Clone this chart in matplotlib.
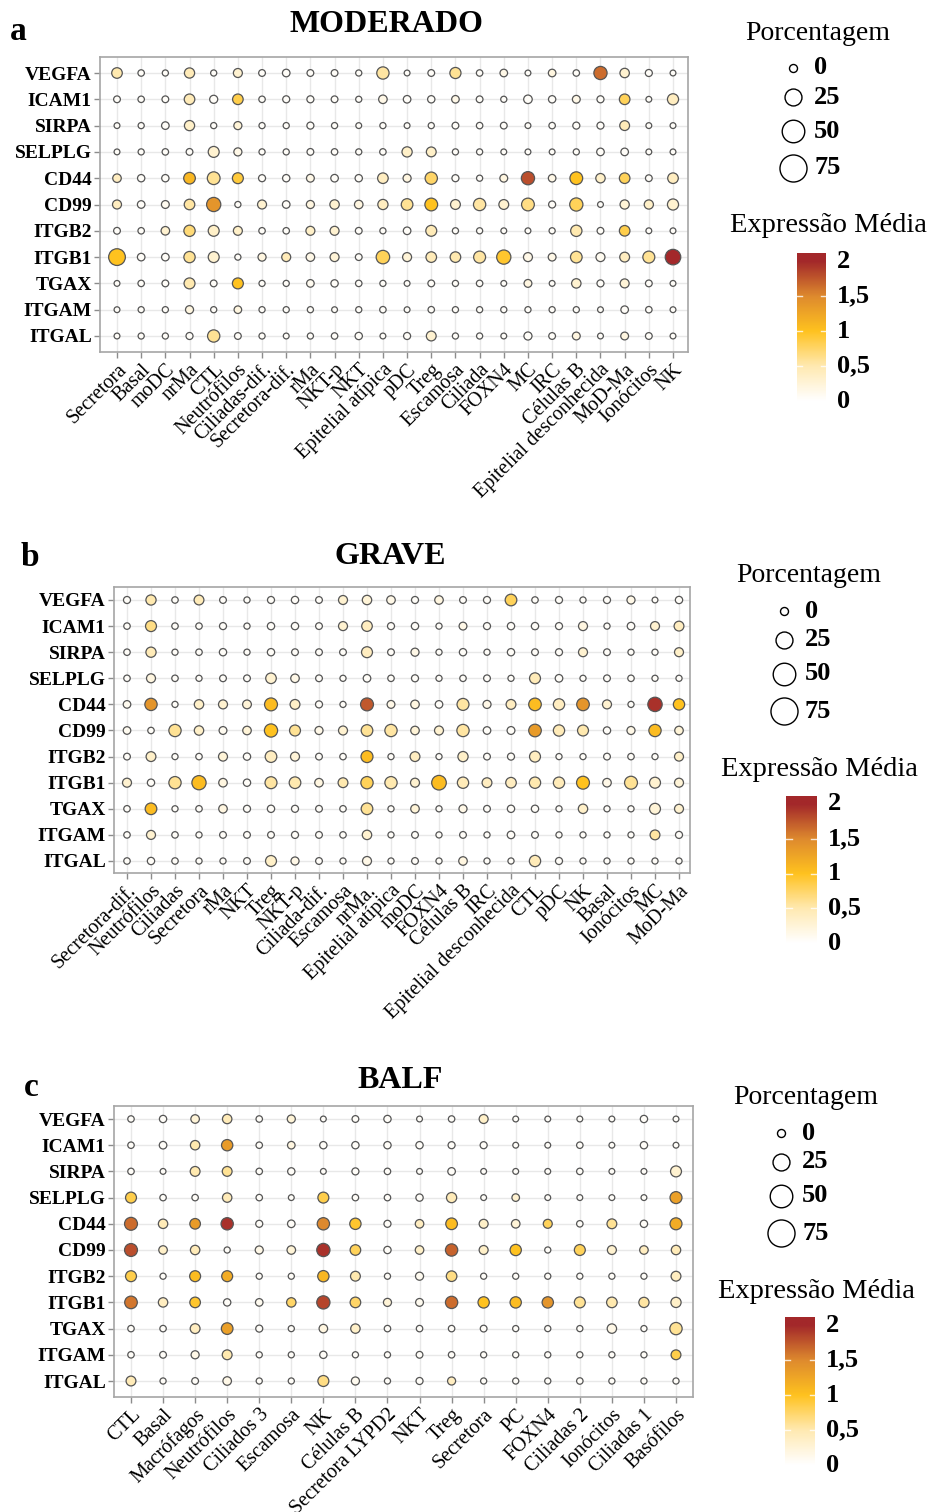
import numpy as np
import matplotlib
matplotlib.use("Agg")
import matplotlib.pyplot as plt
from matplotlib.colors import LinearSegmentedColormap, Normalize

plt.rcParams['font.family'] = ['Liberation Serif', 'DejaVu Serif']

W, H, DPI = 932, 1512, 100

genes = ["VEGFA", "ICAM1", "SIRPA", "SELPLG", "CD44", "CD99", "ITGB2",
         "ITGB1", "TGAX", "ITGAM", "ITGAL"]

# ---------------- Panel a : MODERADO ----------------
cells_a = ["Secretora", "Basal", "moDC", "nrMa", "CTL", "Neutrófilos",
           "Ciliadas-dif.", "Secretora-dif.", "rMa", "NKT-p", "NKT",
           "Epitelial atípica", "pDC", "Treg", "Escamosa", "Ciliada", "FOXN4",
           "MC", "IRC", "Células B", "Epitelial desconhecida", "MoD-Ma",
           "Ionócitos", "NK"]
expr_a = [
    [0.5, 0.05, 0.05, 0.45, 0.05, 0.3, 0.05, 0.05, 0.05, 0.05, 0.05, 0.55, 0.05, 0.05, 0.6, 0.05, 0.15, 0.05, 0.2, 0.05, 1.65, 0.3, 0.05, 0.05],
    [0.05, 0.05, 0.05, 0.45, 0.05, 0.85, 0.05, 0.05, 0.05, 0.05, 0.05, 0.15, 0.05, 0.05, 0.15, 0.05, 0.05, 0.05, 0.05, 0.15, 0.05, 0.8, 0.05, 0.4],
    [0.05, 0.05, 0.05, 0.35, 0.05, 0.25, 0.05, 0.05, 0.05, 0.05, 0.05, 0.05, 0.05, 0.05, 0.05, 0.05, 0.05, 0.05, 0.05, 0.05, 0.05, 0.45, 0.05, 0.05],
    [0.05, 0.05, 0.05, 0.05, 0.3, 0.15, 0.05, 0.05, 0.05, 0.05, 0.05, 0.05, 0.35, 0.35, 0.05, 0.05, 0.05, 0.05, 0.05, 0.05, 0.05, 0.05, 0.05, 0.05],
    [0.4, 0.05, 0.05, 1.1, 0.6, 0.9, 0.05, 0.05, 0.15, 0.05, 0.05, 0.4, 0.2, 0.75, 0.05, 0.05, 0.2, 1.8, 0.15, 1.0, 0.35, 0.8, 0.05, 0.4],
    [0.4, 0.05, 0.1, 0.55, 1.4, 0.05, 0.3, 0.05, 0.2, 0.3, 0.2, 0.4, 0.6, 1.0, 0.3, 0.55, 0.3, 0.65, 0.05, 0.8, 0.05, 0.25, 0.35, 0.3],
    [0.05, 0.05, 0.3, 0.7, 0.35, 0.35, 0.05, 0.05, 0.35, 0.3, 0.05, 0.05, 0.05, 0.45, 0.05, 0.05, 0.05, 0.05, 0.05, 0.5, 0.05, 0.85, 0.05, 0.05],
    [1.0, 0.05, 0.05, 0.6, 0.3, 0.05, 0.2, 0.45, 0.15, 0.25, 0.05, 0.8, 0.25, 0.45, 0.5, 0.55, 0.95, 0.15, 0.15, 0.6, 0.1, 0.4, 0.6, 2.0],
    [0.05, 0.05, 0.05, 0.5, 0.05, 1.0, 0.05, 0.05, 0.1, 0.05, 0.05, 0.05, 0.05, 0.05, 0.05, 0.05, 0.05, 0.2, 0.05, 0.3, 0.05, 0.25, 0.05, 0.05],
    [0.05, 0.05, 0.05, 0.2, 0.05, 0.2, 0.05, 0.05, 0.05, 0.05, 0.05, 0.05, 0.05, 0.05, 0.05, 0.05, 0.05, 0.05, 0.05, 0.05, 0.05, 0.05, 0.05, 0.05],
    [0.05, 0.05, 0.05, 0.05, 0.6, 0.05, 0.05, 0.05, 0.05, 0.05, 0.05, 0.05, 0.05, 0.3, 0.05, 0.05, 0.05, 0.05, 0.05, 0.2, 0.05, 0.2, 0.05, 0.05],
]
pct_a = [
    [22, 4, 3, 20, 3, 14, 5, 8, 5, 5, 3, 32, 2, 5, 25, 4, 8, 2, 8, 4, 38, 16, 6, 2],
    [5, 4, 5, 22, 10, 22, 4, 6, 6, 5, 3, 12, 8, 7, 8, 5, 3, 12, 7, 9, 6, 22, 2, 25],
    [2, 3, 8, 20, 3, 10, 3, 3, 6, 3, 2, 3, 2, 3, 5, 4, 5, 2, 4, 6, 6, 18, 2, 2],
    [2, 3, 4, 5, 24, 10, 3, 3, 5, 4, 3, 4, 20, 18, 3, 3, 2, 2, 2, 3, 8, 8, 2, 2],
    [12, 7, 7, 28, 35, 24, 6, 7, 9, 8, 7, 22, 10, 32, 6, 3, 9, 38, 8, 35, 16, 22, 5, 22],
    [14, 8, 9, 22, 45, 3, 14, 8, 10, 16, 12, 20, 28, 35, 18, 32, 18, 35, 6, 38, 2, 15, 15, 25],
    [5, 4, 12, 26, 24, 14, 4, 4, 14, 14, 5, 3, 8, 24, 3, 3, 2, 2, 3, 26, 5, 22, 2, 2],
    [65, 8, 8, 26, 24, 3, 10, 14, 12, 14, 5, 40, 14, 22, 22, 30, 45, 14, 9, 28, 14, 18, 30, 55],
    [2, 4, 5, 24, 5, 24, 3, 3, 8, 7, 4, 3, 2, 5, 3, 4, 2, 9, 2, 16, 6, 14, 5, 2],
    [2, 3, 3, 10, 3, 8, 3, 3, 3, 2, 3, 4, 2, 4, 3, 3, 3, 3, 3, 3, 2, 8, 4, 2],
    [2, 3, 3, 6, 32, 5, 3, 2, 3, 4, 7, 2, 6, 18, 3, 3, 2, 10, 5, 9, 2, 9, 5, 2],
]

# ---------------- Panel b : GRAVE ----------------
cells_b = ["Secretora-dif.", "Neutrófilos", "Ciliadas", "Secretora", "rMa",
           "NKT", "Treg", "NKT-p", "Ciliada-dif.", "Escamosa", "nrMa.",
           "Epitelial atípica", "moDC", "FOXN4", "Células B", "IRC",
           "Epitelial desconhecida", "CTL", "pDC", "NK", "Basal", "Ionócitos",
           "MC", "MoD-Ma"]
expr_b = [
    [0.05, 0.5, 0.05, 0.45, 0.05, 0.05, 0.05, 0.05, 0.05, 0.3, 0.25, 0.15, 0.05, 0.2, 0.05, 0.05, 0.8, 0.05, 0.05, 0.05, 0.05, 0.15, 0.05, 0.05],
    [0.05, 0.65, 0.05, 0.05, 0.05, 0.05, 0.05, 0.05, 0.05, 0.3, 0.4, 0.05, 0.05, 0.05, 0.15, 0.05, 0.05, 0.05, 0.05, 0.2, 0.05, 0.05, 0.3, 0.4],
    [0.05, 0.45, 0.05, 0.05, 0.05, 0.05, 0.05, 0.05, 0.05, 0.05, 0.4, 0.05, 0.15, 0.05, 0.05, 0.05, 0.05, 0.05, 0.05, 0.3, 0.05, 0.05, 0.05, 0.35],
    [0.05, 0.2, 0.05, 0.05, 0.05, 0.05, 0.3, 0.15, 0.05, 0.05, 0.05, 0.05, 0.05, 0.05, 0.05, 0.05, 0.05, 0.45, 0.05, 0.05, 0.05, 0.05, 0.05, 0.05],
    [0.1, 1.4, 0.05, 0.35, 0.3, 0.25, 1.05, 0.35, 0.05, 0.05, 1.75, 0.15, 0.2, 0.05, 0.55, 0.15, 0.4, 1.05, 0.4, 1.4, 0.3, 0.05, 1.95, 1.0],
    [0.1, 0.05, 0.6, 0.35, 0.1, 0.25, 1.0, 0.6, 0.15, 0.3, 0.6, 0.55, 0.25, 0.3, 0.55, 0.05, 0.05, 1.35, 0.45, 0.5, 0.05, 0.15, 1.05, 0.25],
    [0.05, 0.35, 0.05, 0.05, 0.25, 0.05, 0.4, 0.25, 0.05, 0.05, 1.05, 0.05, 0.4, 0.05, 0.35, 0.05, 0.05, 0.4, 0.05, 0.05, 0.05, 0.05, 0.05, 0.35],
    [0.3, 0.05, 0.6, 1.05, 0.2, 0.05, 0.55, 0.5, 0.2, 0.5, 0.8, 0.5, 0.3, 1.05, 0.45, 0.4, 0.4, 0.5, 0.45, 1.0, 0.15, 0.6, 0.3, 0.25],
    [0.05, 1.05, 0.05, 0.05, 0.2, 0.05, 0.05, 0.05, 0.05, 0.05, 0.6, 0.05, 0.25, 0.05, 0.15, 0.05, 0.05, 0.05, 0.05, 0.35, 0.05, 0.05, 0.25, 0.3],
    [0.05, 0.3, 0.05, 0.05, 0.05, 0.05, 0.05, 0.05, 0.05, 0.05, 0.3, 0.05, 0.05, 0.05, 0.05, 0.05, 0.05, 0.05, 0.05, 0.05, 0.05, 0.05, 0.55, 0.05],
    [0.05, 0.05, 0.05, 0.05, 0.05, 0.05, 0.35, 0.15, 0.05, 0.05, 0.15, 0.05, 0.05, 0.05, 0.2, 0.05, 0.05, 0.45, 0.05, 0.05, 0.05, 0.05, 0.05, 0.05],
]
pct_b = [
    [6, 20, 4, 18, 5, 3, 6, 7, 5, 14, 16, 12, 6, 12, 5, 6, 28, 4, 6, 3, 6, 10, 2, 7],
    [4, 24, 4, 4, 6, 3, 7, 7, 5, 14, 22, 6, 7, 3, 9, 6, 7, 7, 6, 14, 3, 8, 14, 18],
    [4, 20, 3, 4, 7, 3, 7, 5, 5, 5, 24, 5, 10, 3, 7, 3, 7, 5, 6, 14, 5, 3, 3, 14],
    [4, 14, 4, 3, 5, 5, 22, 12, 5, 3, 8, 4, 6, 3, 4, 5, 3, 24, 8, 3, 5, 4, 3, 3],
    [8, 32, 3, 16, 14, 13, 36, 18, 6, 3, 36, 9, 12, 8, 30, 10, 18, 34, 26, 34, 14, 3, 46, 26],
    [8, 4, 32, 16, 9, 12, 38, 24, 10, 14, 28, 32, 12, 14, 32, 8, 9, 34, 26, 24, 7, 10, 32, 12],
    [5, 18, 3, 4, 14, 7, 28, 14, 5, 4, 30, 3, 18, 3, 20, 5, 6, 24, 3, 3, 5, 4, 3, 14],
    [14, 7, 32, 45, 12, 7, 30, 28, 12, 18, 32, 32, 14, 48, 26, 18, 22, 26, 26, 36, 12, 36, 24, 14],
    [4, 28, 3, 4, 12, 6, 7, 6, 5, 4, 28, 3, 12, 3, 10, 5, 7, 7, 3, 16, 3, 3, 24, 14],
    [4, 14, 4, 3, 5, 5, 5, 6, 5, 4, 16, 3, 5, 3, 5, 3, 8, 5, 3, 3, 3, 3, 18, 6],
    [4, 7, 4, 3, 3, 5, 24, 10, 5, 3, 14, 3, 5, 3, 12, 3, 3, 26, 6, 3, 3, 3, 3, 3],
]

# ---------------- Panel c : BALF ----------------
cells_c = ["CTL", "Basal", "Macrófagos", "Neutrófilos", "Ciliados 3",
           "Escamosa", "NK", "Células B", "Secretora LYPD2", "NKT", "Treg",
           "Secretora", "PC", "FOXN4", "Ciliadas 2", "Ionócitos",
           "Ciliadas 1", "Basófilos"]
expr_c = [
    [0.05, 0.05, 0.25, 0.45, 0.05, 0.25, 0.05, 0.05, 0.05, 0.05, 0.05, 0.35, 0.05, 0.05, 0.05, 0.05, 0.05, 0.05],
    [0.05, 0.05, 0.5, 1.35, 0.05, 0.2, 0.05, 0.05, 0.05, 0.05, 0.05, 0.05, 0.05, 0.05, 0.05, 0.05, 0.05, 0.05],
    [0.05, 0.05, 0.5, 0.6, 0.05, 0.05, 0.05, 0.05, 0.05, 0.05, 0.05, 0.05, 0.05, 0.05, 0.05, 0.05, 0.05, 0.3],
    [0.85, 0.05, 0.05, 0.45, 0.05, 0.05, 0.85, 0.05, 0.05, 0.05, 0.45, 0.05, 0.3, 0.05, 0.05, 0.05, 0.05, 1.3],
    [1.65, 0.45, 1.35, 1.95, 0.05, 0.05, 1.5, 0.95, 0.05, 0.4, 1.05, 0.35, 0.25, 0.8, 0.05, 0.6, 0.05, 1.2],
    [1.8, 0.35, 0.45, 0.05, 0.15, 0.25, 1.95, 0.8, 0.05, 0.35, 1.7, 0.35, 1.0, 0.05, 0.8, 0.3, 0.4, 0.45],
    [0.85, 0.05, 1.05, 1.2, 0.05, 0.05, 1.1, 0.5, 0.05, 0.1, 0.65, 0.05, 0.05, 0.05, 0.05, 0.05, 0.05, 0.4],
    [1.6, 0.4, 0.95, 0.05, 0.1, 0.75, 1.85, 0.75, 0.25, 0.1, 1.65, 1.0, 1.05, 1.4, 0.6, 0.5, 0.55, 0.35],
    [0.05, 0.05, 0.4, 1.3, 0.05, 0.05, 0.2, 0.35, 0.05, 0.05, 0.05, 0.05, 0.05, 0.05, 0.05, 0.15, 0.05, 0.6],
    [0.05, 0.05, 0.15, 0.5, 0.05, 0.05, 0.05, 0.05, 0.05, 0.05, 0.05, 0.05, 0.05, 0.05, 0.05, 0.05, 0.05, 0.85],
    [0.45, 0.05, 0.05, 0.15, 0.05, 0.05, 0.65, 0.1, 0.05, 0.05, 0.4, 0.05, 0.05, 0.05, 0.05, 0.05, 0.05, 0.05],
]
pct_c = [
    [4, 7, 12, 16, 4, 10, 2, 5, 7, 2, 4, 14, 2, 2, 2, 2, 7, 2],
    [4, 8, 16, 26, 4, 8, 7, 7, 7, 7, 6, 6, 2, 2, 4, 2, 7, 2],
    [4, 2, 18, 18, 4, 7, 2, 6, 4, 2, 8, 2, 2, 2, 4, 2, 2, 24],
    [24, 4, 4, 16, 4, 2, 24, 4, 4, 7, 20, 2, 8, 2, 2, 2, 2, 30],
    [36, 16, 22, 32, 6, 8, 32, 26, 6, 12, 28, 14, 12, 14, 4, 18, 7, 30],
    [36, 12, 16, 3, 10, 12, 38, 22, 7, 12, 32, 14, 26, 3, 24, 14, 12, 16],
    [24, 3, 24, 24, 3, 3, 26, 18, 3, 10, 22, 3, 3, 3, 3, 3, 3, 18],
    [34, 16, 22, 7, 8, 16, 38, 22, 10, 9, 32, 26, 26, 26, 24, 22, 20, 20],
    [4, 4, 18, 28, 6, 3, 12, 16, 4, 4, 4, 5, 3, 3, 3, 16, 3, 32],
    [4, 5, 10, 18, 3, 3, 7, 3, 3, 5, 4, 3, 3, 3, 3, 3, 3, 18],
    [18, 3, 5, 12, 3, 3, 24, 10, 3, 6, 10, 3, 3, 3, 4, 3, 3, 3],
]

size_breaks = [0, 25, 50, 75]
color_ticks = [0, 0.5, 1, 1.5, 2]
color_tick_labels = ["0", "0,5", "1", "1,5", "2"]

# ---------------- styling ----------------
cmap = LinearSegmentedColormap.from_list(
    "expr", [(0.0, "#FFFFFF"), (0.25, "#FFE9B0"), (0.5, "#FFC21F"),
             (0.75, "#DE8A2E"), (1.0, "#A3282A")])
norm = Normalize(vmin=0, vmax=2, clip=True)


def px_rect(l, t, r, b):
    return [l / W, 1 - b / H, (r - l) / W, (b - t) / H]


def pct_to_s(p):
    d_px = np.sqrt(26 + 3.9 * np.asarray(p, dtype=float))
    return (d_px * 72 / DPI) ** 2


def legend_s(p):
    d_px = np.sqrt(64 + 8.9 * np.asarray(p, dtype=float))
    return (d_px * 72 / DPI) ** 2


fig = plt.figure(figsize=(W / DPI, H / DPI), dpi=DPI)
fig.patch.set_facecolor("white")

overlay = fig.add_axes([0, 0, 1, 1], zorder=5)
overlay.set_xlim(0, W)
overlay.set_ylim(H, 0)
overlay.axis("off")
overlay.patch.set_alpha(0)


def T(x, y, s, **kw):
    overlay.text(x, y, s, **kw)


def dot_panel(box, first_x, last_x, first_y, last_y, cells, expr, pct):
    l, t, r, b = box
    n = len(cells)
    m = len(genes)
    dx = (last_x - first_x) / (n - 1)
    dy = (last_y - first_y) / (m - 1)
    ax = fig.add_axes(px_rect(l, t, r, b))
    ax.set_xlim(-(first_x - l) / dx, (n - 1) + (r - last_x) / dx)
    ax.set_ylim((m - 1) + (b - last_y) / dy, -(first_y - t) / dy)
    ax.set_xticks(range(n))
    ax.set_yticks(range(m))
    ax.set_xticklabels(cells, rotation=45, ha="right", va="top",
                       rotation_mode="anchor", fontsize=14.5)
    ax.set_yticklabels(genes, fontsize=14, fontweight="bold")
    ax.grid(True, color="#E8E8E8", lw=1.0, zorder=0)
    ax.set_axisbelow(True)
    for sp in ax.spines.values():
        sp.set_color("#A6A6A6")
        sp.set_linewidth(1.2)
    ax.tick_params(axis="both", length=4, width=1, color="#8C8C8C", pad=2)
    xs, ys, cs, ss = [], [], [], []
    for gi in range(m):
        for ci in range(n):
            xs.append(ci)
            ys.append(gi)
            cs.append(expr[gi][ci])
            ss.append(pct[gi][ci])
    ax.scatter(xs, ys, c=cs, s=pct_to_s(ss), cmap=cmap, norm=norm,
               edgecolors="#555555", linewidths=0.9, zorder=3)
    return ax


def legends(cx, y_title, y_items, bar, y_title2):
    # size legend
    T(cx + 25, y_title, "Porcentagem", fontsize=20, ha="center", va="center")
    for br, yy in zip(size_breaks, y_items):
        overlay.scatter([cx], [yy], s=legend_s(br), facecolors="white",
                        edgecolors="black", linewidths=1.0)
        T(cx + 21, yy, str(br), fontsize=19, fontweight="bold",
          ha="left", va="center")
    # colour legend
    bl, br_, y2, y0 = bar
    T(cx + 35, y_title2, "Expressão Média", fontsize=20.5, ha="center",
      va="center")
    per = (y0 - y2) / 2.0
    top = y2 - 8
    bot = y0 + 6
    cax = fig.add_axes(px_rect(bl, top, br_, bot))
    vmax_ext = 2 + (y2 - top) / per
    vmin_ext = -(bot - y0) / per
    grad = np.linspace(vmin_ext, vmax_ext, 300).reshape(-1, 1)
    cax.imshow(grad, extent=[0, 1, vmin_ext, vmax_ext], origin="lower",
               aspect="auto", cmap=cmap, norm=norm)
    cax.set_xlim(0, 1)
    cax.set_ylim(vmin_ext, vmax_ext)
    cax.axis("off")
    for v in color_ticks[1:-1]:
        cax.plot([0, 0.18], [v, v], color="white", lw=1, alpha=0.8)
        cax.plot([0.82, 1], [v, v], color="white", lw=1, alpha=0.8)
    for v, lab in zip(color_ticks, color_tick_labels):
        yy = y0 - v * per
        T(br_ + 11, yy, lab, fontsize=19, fontweight="bold", ha="left",
          va="center")


# Panel a
dot_panel((100, 57, 688, 352), 117, 673, 73, 336, cells_a, expr_a, pct_a)
T(387, 25, "MODERADO", fontsize=23, fontweight="bold", ha="center", va="center")
T(18, 31, "a", fontsize=24, fontweight="bold", ha="center", va="center")
legends(793, 33, [68, 97, 131, 168], (797, 826, 261, 401), 226)

# Panel b
dot_panel((114, 587, 690, 873), 127, 679, 600, 861, cells_b, expr_b, pct_b)
T(390, 557, "GRAVE", fontsize=23, fontweight="bold", ha="center", va="center")
T(30, 558, "b", fontsize=24, fontweight="bold", ha="center", va="center")
legends(784, 576, [611, 640, 674, 711], (786, 817, 804, 943), 769)

# Panel c
dot_panel((114, 1106, 693, 1397), 131, 676, 1119, 1381, cells_c, expr_c, pct_c)
T(400, 1080, "BALF", fontsize=23, fontweight="bold", ha="center", va="center")
T(31, 1087, "c", fontsize=24, fontweight="bold", ha="center", va="center")
legends(781, 1098, [1133, 1162, 1196, 1233], (785, 815, 1325, 1465), 1291)

fig.savefig("out.png", dpi=DPI)
